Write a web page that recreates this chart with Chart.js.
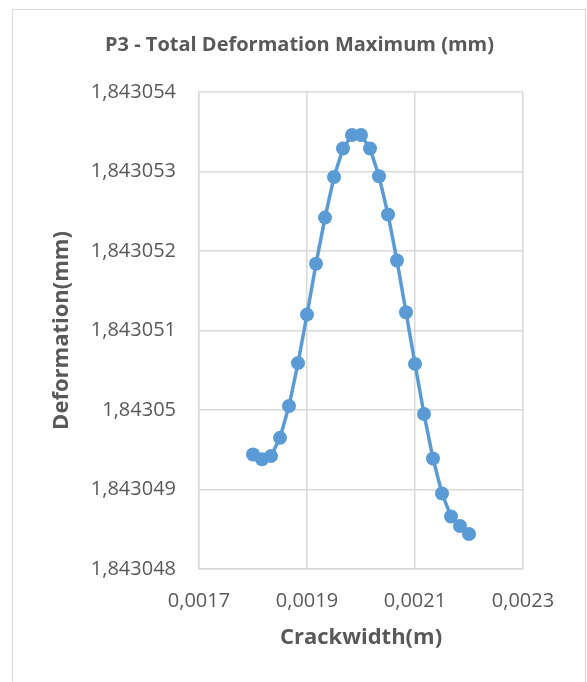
<!DOCTYPE html>
<html>
<head>
<meta charset="utf-8">
<script src="https://cdn.jsdelivr.net/npm/chart.js@4/dist/chart.umd.min.js"></script>
<style>
  html, body { margin: 0; padding: 0; background: #fff; overflow: hidden; }
  #frame { position: absolute; left: 12px; top: 9px; width: 572px; height: 700px; border: 1px solid #d9d9d9; }
  #chart { position: absolute; left: 0; top: 0; }
</style>
</head>
<body>
<div id="frame"></div>
<canvas id="chart" width="587" height="682"></canvas>
<script>
// Crackwidth (m)
const crackwidth = [
    0.0018, 0.00181667, 0.00183333, 0.00185, 0.00186667, 0.00188333,
    0.0019, 0.00191667, 0.00193333, 0.00195, 0.00196667, 0.00198333,
    0.002, 0.00201667, 0.00203333, 0.00205, 0.00206667, 0.00208333,
    0.0021, 0.00211667, 0.00213333, 0.00215, 0.00216667, 0.00218333, 0.0022
];
// Deformation (mm)
const deformation = [
    1.84304944, 1.84304938, 1.84304942, 1.84304965, 1.84305005, 1.84305059,
    1.8430512, 1.84305184, 1.84305242, 1.84305293, 1.84305329, 1.84305346,
    1.84305346, 1.84305329, 1.84305294, 1.84305246, 1.84305188, 1.84305123,
    1.84305058, 1.84304995, 1.84304939, 1.84304895, 1.84304866, 1.84304854, 1.84304844
];
const xTicks = [0.0017, 0.0019, 0.0021, 0.0023];
const yTicks = [1.843048, 1.843049, 1.84305, 1.843051, 1.843052, 1.843053, 1.843054];

const grey = '#595959';
const gridCol = '#d9d9d9';
const fam = '"Open Sans", sans-serif';
const comma = (v, d) => Number(v.toFixed(d)).toString().replace('.', ',');

new Chart(document.getElementById('chart').getContext('2d'), {
    type: 'line',
    data: {
        datasets: [{
            label: 'P3',
            data: crackwidth.map((x, i) => ({ x: x, y: deformation[i] })),
            borderColor: '#5B9BD5',
            backgroundColor: '#5B9BD5',
            borderWidth: 3.5,
            pointRadius: 7,
            pointBorderWidth: 0,
            pointBackgroundColor: '#5B9BD5',
            tension: 0
        }]
    },
    options: {
        responsive: false,
        animation: false,
        layout: { padding: { left: 12, right: 0, top: 0, bottom: 0 } },
        plugins: {
            legend: { display: false },
            tooltip: { enabled: false },
            title: {
                display: true,
                text: 'P3 - Total Deformation Maximum (mm)',
                color: grey,
                font: { family: fam, size: 20, weight: 'bold' },
                padding: { top: 33, bottom: 35 }
            }
        },
        scales: {
            x: {
                type: 'linear',
                min: xTicks[0],
                max: xTicks[xTicks.length - 1],
                afterBuildTicks: s => { s.ticks = xTicks.map(v => ({ value: v })); },
                afterFit: s => { s.height = 113; },
                grid: { color: gridCol, lineWidth: 1.5, drawTicks: false },
                border: { color: gridCol, width: 1.5 },
                ticks: {
                    color: grey,
                    font: { family: fam, size: 20 },
                    padding: 20,
                    maxRotation: 0,
                    callback: v => comma(v, 4)
                },
                title: {
                    display: true,
                    text: 'Crackwidth(m)',
                    color: grey,
                    font: { family: fam, size: 22, weight: 'bold' },
                    padding: { top: 0, bottom: 31 }
                }
            },
            y: {
                min: yTicks[0],
                max: yTicks[yTicks.length - 1],
                afterBuildTicks: s => { s.ticks = yTicks.map(v => ({ value: v })); },
                afterFit: s => { s.width = 187; },
                grid: { color: gridCol, lineWidth: 1.5, drawTicks: false },
                border: { color: gridCol, width: 1.5 },
                ticks: {
                    color: grey,
                    font: { family: fam, size: 20 },
                    padding: 23,
                    callback: v => comma(v, 6)
                },
                title: {
                    display: true,
                    text: 'Deformation(mm)',
                    color: grey,
                    font: { family: fam, size: 22, weight: 'bold' },
                    padding: { top: 37, bottom: 0 }
                }
            },
            y2: {
                position: 'right',
                min: 0,
                max: 1,
                afterFit: s => { s.width = 64; },
                grid: { display: false },
                border: { display: false },
                ticks: { display: false }
            }
        }
    }
});
</script>
</body>
</html>
